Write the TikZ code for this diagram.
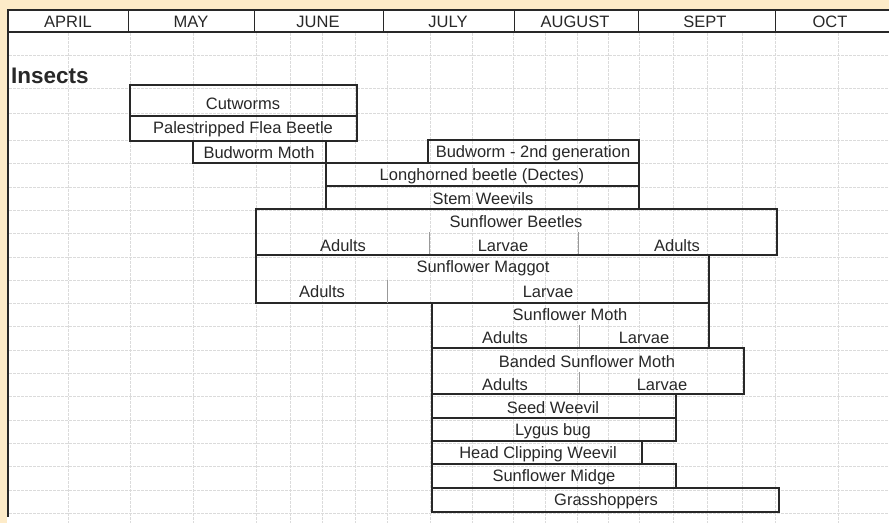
\documentclass[tikz,border=0pt]{standalone}
\usepackage{fontspec}
\setmainfont{Liberation Sans}
\usetikzlibrary{positioning}

\definecolor{pagebg}{RGB}{253,235,200}
\definecolor{ink}{RGB}{40,40,40}

\tikzset{
  gridline/.style={draw=black!14, line width=0.6pt, dash pattern=on 2.5pt off 1.5pt},
  barline/.style={draw=ink, line width=1.6pt},
  subline/.style={draw=black!40, line width=0.8pt},
  bartext/.style={font=\fontsize{16.5}{18}\selectfont, text=ink, inner sep=0pt},
  monthtext/.style={font=\fontsize{16.5}{18}\selectfont, text=ink, inner sep=0pt}
}

\begin{document}
\begin{tikzpicture}[x=1pt,y=-1pt]

\useasboundingbox (0,0) rectangle (889,523);

%--------------------
% Hintergrund
%--------------------
\fill[pagebg] (0,0) rectangle (889,523);
\fill[white] (7,10) rectangle (889,523);

% Raster
\foreach \gx in {68,130,193,256,290,322,355,387,430,472,513,545,577,608,639,673,707,742,775,838}
  \draw[gridline] (\gx,33) -- (\gx,523);
\foreach \gy in {55,88,113,140,163,187,210,233,257,280,303,326,350,373,396,420,443,466,490,513}
  \draw[gridline] (9,\gy) -- (889,\gy);

%--------------------
% Monate
%--------------------
\draw[ink, line width=1.2pt] (7,10) -- (889,10);
\draw[ink, line width=2.4pt] (7,32) -- (889,32);
\draw[ink, line width=2.4pt] (8,10) -- (8,517);
\foreach \mx in {128,254,383,514,638,775}
  \draw[ink, line width=1pt] (\mx,10) -- (\mx,32);

\foreach \mx/\mname in {68/APRIL,191/MAY,318/JUNE,448/JULY,575/AUGUST,705/SEPT,830/OCT}
  \node[monthtext] (m-\mname) at (\mx,21.5) {\mname};

\node[font=\bfseries\fontsize{22.5}{25}\selectfont, text=ink, inner sep=0pt, anchor=west]
  (insects) at (11,76) {Insects};

%--------------------
% Balken
%--------------------
\draw[barline] (130,85) rectangle (357,116);
\node[bartext] (cutworms) at (243,104) {Cutworms};

\draw[barline] (130,116) rectangle (357,141);
\node[bartext] (fleabeetle) at (243,129.5) {Palestripped Flea Beetle};

\draw[barline] (193,141) rectangle (326,163);
\node[bartext] (budworm) at (259,152.5) {Budworm Moth};

\draw[barline] (428,140) rectangle (639,163);
\node[bartext] (budworm2) at (533,153) {Budworm - 2nd generation};

\draw[barline] (326,163) rectangle (639,186);
\node[bartext] (dectes) at (482,176) {Longhorned beetle (Dectes)};

\draw[barline] (326,186) rectangle (639,209);
\node[bartext] (stemweevil) at (483,199) {Stem Weevils};

% Sunflower Beetles
\draw[barline] (256,209) rectangle (777,255);
\draw[subline] (429,232) -- (429,255);
\draw[subline] (578,232) -- (578,255);
\node[bartext] (beetles) at (516,222) {Sunflower Beetles};
\node[bartext] (beetles-a1) at (343,246) {Adults};
\node[bartext] (beetles-l) at (503,246) {Larvae};
\node[bartext] (beetles-a2) at (677,246) {Adults};

% Sunflower Maggot
\draw[barline] (256,255) rectangle (709,303);
\draw[subline] (387,280) -- (387,303);
\node[bartext] (maggot) at (483,268.5) {Sunflower Maggot};
\node[bartext] (maggot-a) at (322,292) {Adults};
\node[bartext] (maggot-l) at (548,292) {Larvae};

% Sunflower Moth
\draw[barline] (432,303) rectangle (709,348);
\draw[subline] (579,325) -- (579,348);
\node[bartext] (moth) at (570,315) {Sunflower Moth};
\node[bartext] (moth-a) at (505,338) {Adults};
\node[bartext] (moth-l) at (644,338) {Larvae};

% Banded Sunflower Moth
\draw[barline] (432,348) rectangle (744,394);
\draw[subline] (579,372) -- (579,394);
\node[bartext] (banded) at (587,361.5) {Banded Sunflower Moth};
\node[bartext] (banded-a) at (505,385) {Adults};
\node[bartext] (banded-l) at (662,385) {Larvae};

\draw[barline] (432,394) rectangle (676,418);
\node[bartext] (seedweevil) at (553,407.5) {Seed Weevil};

\draw[barline] (432,418) rectangle (676,441);
\node[bartext] (lygus) at (553,431) {Lygus bug};

\draw[barline] (432,441) rectangle (642,464);
\node[bartext] (headclip) at (538,454) {Head Clipping Weevil};

\draw[barline] (432,464) rectangle (676,488);
\node[bartext] (midge) at (554,477.5) {Sunflower Midge};

\draw[barline] (432,488) rectangle (779,512);
\node[bartext] (grasshop) at (606,501.5) {Grasshoppers};

\end{tikzpicture}
\end{document}
